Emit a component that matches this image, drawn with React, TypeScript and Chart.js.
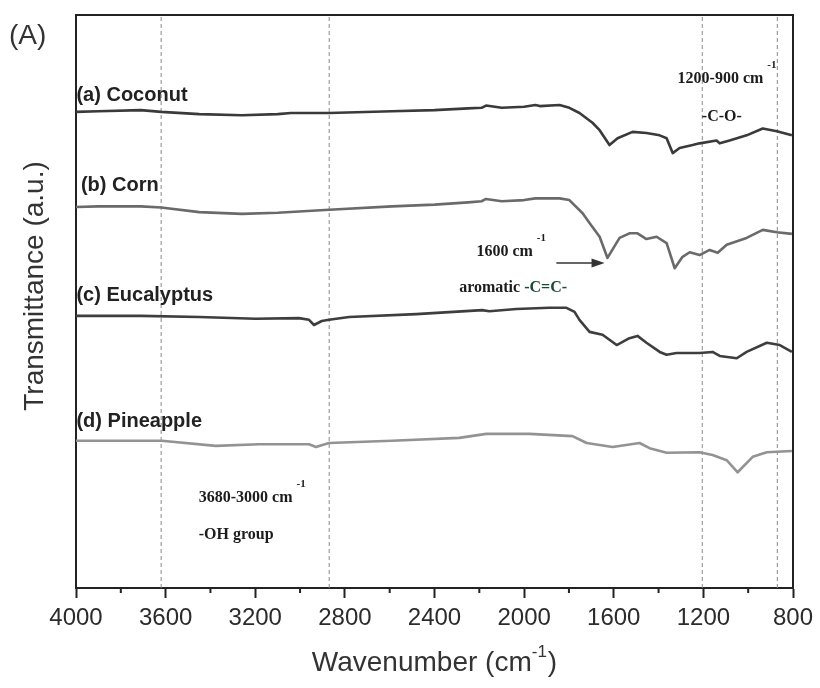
import { useEffect, useRef } from 'react';
import { Chart, registerables } from 'chart.js';

Chart.register(...registerables);

// ---------- data ----------
const xTickValues = [4000, 3600, 3200, 2800, 2400, 2000, 1600, 1200, 800];
const xMinorTicks = [3800, 3400, 3000, 2600, 2200, 1800, 1400, 1000];
const guideWavenumbers = [3620, 2870, 1205, 870];

const coconutWn = [4000, 3900, 3710, 3620, 3450, 3260, 3100, 3040, 2870, 2590, 2400, 2250, 2190, 2170, 2100, 2000, 1950, 1930, 1842, 1798, 1753, 1695, 1663, 1619, 1583, 1516, 1454, 1395, 1364, 1337, 1306, 1248, 1217, 1141, 1127, 1083, 1007, 935, 872, 805];
const coconutT = [83.1, 83.2, 83.4, 83.1, 82.7, 82.5, 82.7, 82.9, 82.9, 83.2, 83.4, 83.7, 83.8, 84.2, 83.8, 84.0, 84.3, 84.1, 84.3, 83.8, 82.9, 81.2, 79.9, 77.3, 78.5, 79.6, 79.4, 79.0, 78.5, 75.9, 76.8, 77.3, 77.6, 78.1, 77.6, 78.1, 79.0, 80.2, 79.7, 79.0];

const cornWn = [4000, 3900, 3710, 3620, 3450, 3260, 3100, 2870, 2590, 2400, 2250, 2190, 2170, 2100, 2000, 1950, 1842, 1798, 1739, 1708, 1663, 1628, 1574, 1530, 1494, 1454, 1409, 1364, 1328, 1293, 1261, 1217, 1172, 1136, 1096, 1007, 935, 872, 805];
const cornT = [66.5, 66.6, 66.6, 66.4, 65.6, 65.3, 65.5, 66.0, 66.6, 66.9, 67.3, 67.5, 67.9, 67.5, 67.7, 68.0, 68.0, 67.7, 65.4, 63.7, 61.3, 57.6, 61.1, 61.9, 61.9, 60.9, 61.3, 60.2, 55.8, 57.8, 58.6, 58.1, 59.0, 58.5, 59.9, 61.1, 62.5, 62.1, 61.8];

const eucalyptusWn = [4000, 3710, 3450, 3200, 3005, 2960, 2938, 2903, 2871, 2781, 2482, 2187, 2155, 2035, 1887, 1811, 1775, 1753, 1708, 1650, 1587, 1530, 1494, 1454, 1395, 1364, 1320, 1217, 1159, 1127, 1051, 1007, 917, 859, 805];
const eucalyptusT = [47.5, 47.5, 47.3, 47.0, 47.1, 46.8, 45.9, 46.6, 46.8, 47.3, 47.8, 48.5, 48.3, 48.7, 48.9, 48.9, 48.2, 46.8, 44.7, 44.2, 42.4, 43.6, 44.0, 42.8, 41.2, 40.7, 41.0, 41.0, 41.2, 40.5, 40.1, 41.2, 42.8, 42.4, 41.2];

const pineappleWn = [4000, 3618, 3376, 3184, 2960, 2929, 2871, 2589, 2290, 2169, 1976, 1784, 1721, 1605, 1485, 1440, 1364, 1217, 1159, 1096, 1047, 980, 917, 805];
const pineappleT = [25.7, 25.7, 24.8, 25.1, 25.1, 24.6, 25.3, 25.7, 26.2, 26.9, 26.9, 26.5, 25.3, 24.6, 25.3, 24.4, 23.6, 23.7, 23.2, 22.3, 20.2, 22.9, 23.7, 23.9];

const seriesNames = ['(a) Coconut', '(b) Corn', '(c) Eucalyptus', '(d) Pineapple'];

// ---------- placement / style ----------
const SANS = '"Liberation Sans", Arial, sans-serif';
const SERIF = '"Liberation Serif", "Times New Roman", serif';

const seriesLabelPos = [
  { wn: 3998, t: 86.0 },
  { wn: 3978, t: 70.3 },
  { wn: 3998, t: 51.1 },
  { wn: 3998, t: 29.0 },
];

const annotations = [
  { text: '1200-900 cm', sup: '-1', wn: 1315, t: 88.8 },
  { text: '-C-O-', sup: '', wn: 1207, t: 82.2 },
  { text: '1600 cm', sup: '-1', wn: 2213, t: 58.6 },
  { text: '3680-3000 cm', sup: '-1', wn: 3452, t: 15.7 },
  { text: '-OH group', sup: '', wn: 3452, t: 9.2 },
];
const aromaticPos = { wn: 2290, t: 52.4 };
const arrowPos = { fromWn: 1856, toWn: 1641, t: 56.7 };

const lineColors = ['#3a3a3a', '#6a6a6a', '#3e3e3e', '#939393'];

function toPoints(xs: number[], ys: number[]) {
  return xs.map((x, i) => ({ x, y: ys[i] }));
}

const decorPlugin = {
  id: 'ftirDecor',
  afterDraw(chart: any) {
    const { ctx, chartArea } = chart;
    const xs = chart.scales.x;
    const ys = chart.scales.y;
    const px = (v: number) => xs.getPixelForValue(v);
    const py = (v: number) => ys.getPixelForValue(v);

    ctx.save();
    // frame top & right
    ctx.strokeStyle = '#222';
    ctx.lineWidth = 2;
    ctx.beginPath();
    ctx.moveTo(chartArea.left, chartArea.top);
    ctx.lineTo(chartArea.right, chartArea.top);
    ctx.lineTo(chartArea.right, chartArea.bottom);
    ctx.stroke();

    // minor ticks
    ctx.beginPath();
    xMinorTicks.forEach((v) => {
      const x = px(v);
      ctx.moveTo(x, chartArea.bottom);
      ctx.lineTo(x, chartArea.bottom + 5);
    });
    ctx.stroke();

    // series labels
    ctx.fillStyle = '#222';
    ctx.font = `bold 20px ${SANS}`;
    ctx.textBaseline = 'middle';
    ctx.textAlign = 'left';
    seriesNames.forEach((name, i) => {
      ctx.fillText(name, px(seriesLabelPos[i].wn), py(seriesLabelPos[i].t));
    });

    // annotations
    annotations.forEach((a) => {
      ctx.font = `bold 16px ${SERIF}`;
      ctx.fillStyle = '#1c1c1c';
      const x = px(a.wn);
      const y = py(a.t);
      ctx.fillText(a.text, x, y);
      if (a.sup) {
        const w = ctx.measureText(a.text).width;
        ctx.font = `bold 11px ${SERIF}`;
        ctx.fillText(a.sup, x + w + 4, y - 14);
      }
    });

    // aromatic -C=C-
    {
      const x = px(aromaticPos.wn);
      const y = py(aromaticPos.t);
      ctx.font = `bold 16px ${SERIF}`;
      ctx.fillStyle = '#1c1c1c';
      const p1 = 'aromatic ';
      ctx.fillText(p1, x, y);
      const w = ctx.measureText(p1).width;
      ctx.fillStyle = '#1d4a35';
      ctx.fillText('-C=C-', x + w, y);
    }

    // arrow
    {
      const x1 = px(arrowPos.fromWn);
      const x2 = px(arrowPos.toWn);
      const y = py(arrowPos.t);
      ctx.strokeStyle = '#333';
      ctx.fillStyle = '#333';
      ctx.lineWidth = 1.5;
      ctx.beginPath();
      ctx.moveTo(x1, y);
      ctx.lineTo(x2 - 10, y);
      ctx.stroke();
      ctx.beginPath();
      ctx.moveTo(x2, y);
      ctx.lineTo(x2 - 13, y - 4.5);
      ctx.lineTo(x2 - 13, y + 4.5);
      ctx.closePath();
      ctx.fill();
    }

    // (A)
    ctx.fillStyle = '#333';
    ctx.font = `28px ${SANS}`;
    ctx.textAlign = 'left';
    ctx.fillText('(A)', 9, 36);

    // y-axis title
    ctx.save();
    ctx.translate(35, 286);
    ctx.rotate(-Math.PI / 2);
    ctx.textAlign = 'center';
    ctx.font = `28px ${SANS}`;
    ctx.fillText('Transmittance (a.u.)', 0, 0);
    ctx.restore();

    // x-axis title with superscript
    {
      const main = 'Wavenumber (cm';
      const sup = '-1';
      const end = ')';
      ctx.font = `28px ${SANS}`;
      const w1 = ctx.measureText(main).width;
      const w3 = ctx.measureText(end).width;
      ctx.font = `17px ${SANS}`;
      const w2 = ctx.measureText(sup).width;
      const total = w1 + w2 + w3 + 1;
      const cx = (chartArea.left + chartArea.right) / 2;
      const y = 663;
      let x = cx - total / 2;
      ctx.textAlign = 'left';
      ctx.font = `28px ${SANS}`;
      ctx.fillText(main, x, y);
      x += w1;
      ctx.font = `17px ${SANS}`;
      ctx.fillText(sup, x, y - 11);
      x += w2 + 1;
      ctx.font = `28px ${SANS}`;
      ctx.fillText(end, x, y);
    }
    ctx.restore();
  },
};

export default function App() {
  const canvasRef = useRef<HTMLCanvasElement | null>(null);

  useEffect(() => {
    if (!canvasRef.current) return;
    const seriesWn = [coconutWn, cornWn, eucalyptusWn, pineappleWn];
    const seriesT = [coconutT, cornT, eucalyptusT, pineappleT];

    const datasets: any[] = seriesNames.map((name, i) => ({
      label: name,
      data: toPoints(seriesWn[i], seriesT[i]),
      borderColor: lineColors[i],
      borderWidth: 2.6,
      pointRadius: 0,
      tension: 0,
      fill: false,
      borderJoinStyle: 'round',
      order: 1,
    }));

    guideWavenumbers.forEach((w) => {
      datasets.push({
        label: 'guide',
        data: [
          { x: w, y: 0 },
          { x: w, y: 100 },
        ],
        borderColor: '#8a8a8a',
        borderWidth: 1,
        borderDash: [4, 3],
        pointRadius: 0,
        fill: false,
        order: 10,
      });
    });

    const chart = new Chart(canvasRef.current, {
      type: 'line',
      data: { datasets },
      options: {
        animation: false,
        responsive: false,
        maintainAspectRatio: false,
        devicePixelRatio: 1,
        layout: { padding: { top: 15, right: 27, left: 0, bottom: 0 } },
        plugins: {
          legend: { display: false },
          tooltip: { enabled: false },
        },
        scales: {
          x: {
            type: 'linear',
            position: 'bottom',
            min: 800,
            max: 4000,
            reverse: true,
            afterBuildTicks: (s: any) => {
              s.ticks = xTickValues.map((v) => ({ value: v }));
            },
            afterFit: (s: any) => {
              s.height = 100;
            },
            ticks: {
              autoSkip: false,
              maxRotation: 0,
              minRotation: 0,
              padding: 6,
              color: '#2b2b2b',
              font: { family: SANS, size: 24 },
              callback: (v: any) => String(v),
            },
            grid: {
              display: true,
              drawOnChartArea: false,
              drawTicks: true,
              tickLength: 10,
              tickWidth: 2,
              tickColor: '#222',
            },
            border: { display: true, color: '#222', width: 2 },
          },
          y: {
            type: 'linear',
            min: 0,
            max: 100,
            ticks: { display: false },
            grid: { display: false },
            border: { display: true, color: '#222', width: 2 },
            afterFit: (s: any) => {
              s.width = 76;
            },
          },
        },
      } as any,
      plugins: [decorPlugin],
    });

    return () => chart.destroy();
  }, []);

  return (
    <div style={{ position: 'absolute', left: 0, top: 0, width: 820, height: 688, background: '#fff' }}>
      <canvas ref={canvasRef} width={820} height={688} style={{ display: 'block', width: 820, height: 688 }} />
    </div>
  );
}
